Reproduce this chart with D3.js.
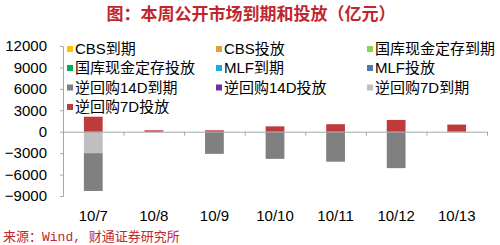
<!DOCTYPE html>
<html>
<head>
<meta charset="utf-8">
<script src="https://cdn.jsdelivr.net/npm/d3@7"></script>
<style>
  body { margin: 0; background: #fff; }
  svg { display: block; }
  text { font-family: "Liberation Sans", Arial, "Noto Sans CJK SC", sans-serif; }
</style>
</head>
<body>
<svg id="chart"></svg>
<script>
// data
const categories = ['10/7', '10/8', '10/9', '10/10', '10/11', '10/12', '10/13'];
const cbsDue = [0, 0, 0, 0, 0, 0, 0];
const cbsIssue = [0, 0, 0, 0, 0, 0, 0];
const treasuryDue = [0, 0, 0, 0, 0, 0, 0];
const treasuryIssue = [0, 0, 0, 0, 0, 0, 0];
const mlfDue = [0, 0, 0, 0, 0, 0, 0];
const mlfIssue = [0, 0, 0, 0, 0, 0, 0];
const rr14Due = [-5300, 0, -3100, -3800, -4200, -5100, 0];
const rr14Issue = [0, 0, 0, 0, 0, 0, 0];
const rr7Due = [-3000, 0, 0, 0, 0, 0, 0];
const rr7Issue = [2100, 200, 200, 750, 1050, 1650, 1000];
const yTicks = [-9000, -6000, -3000, 0, 3000, 6000, 9000, 12000];

const seriesNames = ['CBS到期', 'CBS投放', '国库现金定存到期', '国库现金定存投放', 'MLF到期', 'MLF投放',
  '逆回购14D到期', '逆回购14D投放', '逆回购7D到期', '逆回购7D投放'];
const seriesValues = [cbsDue, cbsIssue, treasuryDue, treasuryIssue, mlfDue, mlfIssue,
  rr14Due, rr14Issue, rr7Due, rr7Issue];
const colors = ['#FFC000', '#DDA031', '#92D050', '#00B050', '#1EA9E6', '#4A7EA6',
  '#808080', '#7030A0', '#BFBFBF', '#BF3A3A'];
// 7D maturities sit next to the zero line, 14D below them
const stackKeys = ['CBS到期', 'CBS投放', '国库现金定存到期', '国库现金定存投放', 'MLF到期', 'MLF投放',
  '逆回购7D到期', '逆回购14D到期', '逆回购14D投放', '逆回购7D投放'];

const width = 500, height = 245;
const svg = d3.select('#chart').attr('width', width).attr('height', height);

const rows = categories.map((c, i) => {
  const r = { cat: c };
  seriesNames.forEach((n, k) => { r[n] = seriesValues[k][i]; });
  return r;
});
const color = d3.scaleOrdinal().domain(seriesNames).range(colors);

const x = d3.scaleBand().domain(categories).range([63, 487]).paddingInner(0.69).paddingOuter(0.345);
const y = d3.scaleLinear().domain([-9000, 12000]).range([196, 46]);
const bounds = d3.scaleLinear().domain([0, categories.length]).range([63, 487]);

// title
svg.append('text')
  .attr('x', 251).attr('y', 20)
  .attr('text-anchor', 'middle')
  .attr('fill', '#C0262D')
  .attr('font-size', 17).attr('font-weight', 'bold')
  .style('font-family', '"Noto Sans CJK SC", sans-serif')
  .text('图：本周公开市场到期和投放（亿元）');

// bars
const stacked = d3.stack().keys(stackKeys).offset(d3.stackOffsetDiverging)(rows);
svg.append('g').selectAll('g')
  .data(stacked)
  .join('g')
  .attr('fill', d => color(d.key))
  .selectAll('rect')
  .data(d => d)
  .join('rect')
  .attr('x', d => x(d.data.cat))
  .attr('width', x.bandwidth())
  .attr('y', d => y(Math.max(d[0], d[1])))
  .attr('height', d => Math.abs(y(d[0]) - y(d[1])));

// y axis
const yAxis = svg.append('g')
  .attr('transform', 'translate(63,0)')
  .call(d3.axisLeft(y).tickValues(yTicks).tickSize(3).tickPadding(13).tickFormat(d3.format('d')));
yAxis.select('.domain').attr('stroke', '#A6A6A6');
yAxis.selectAll('line').attr('stroke', '#A6A6A6');
yAxis.selectAll('text').attr('font-size', 15).attr('fill', '#000');

// x axis at zero, ticks between categories
const xTickAxis = svg.append('g')
  .attr('transform', `translate(0,${y(0)})`)
  .call(d3.axisBottom(bounds).tickValues(d3.range(categories.length + 1)).tickSize(4).tickSizeOuter(0).tickFormat(''));
xTickAxis.select('.domain').attr('stroke', '#A6A6A6');
xTickAxis.selectAll('line').attr('stroke', '#A6A6A6');

const xLabels = svg.append('g')
  .attr('transform', `translate(0,${y(0)})`)
  .call(d3.axisBottom(x).tickSize(0).tickPadding(79));
xLabels.select('.domain').remove();
xLabels.selectAll('text').attr('font-size', 15).attr('fill', '#000');

// legend
const legendCols = [67, 216, 367];
const legendRows = [49, 68, 87.5, 107];
const legend = svg.append('g').selectAll('g')
  .data(seriesNames)
  .join('g')
  .attr('transform', (d, i) => `translate(${legendCols[i % 3]},${legendRows[Math.floor(i / 3)]})`);
legend.append('rect')
  .attr('x', 0).attr('y', -3).attr('width', 6).attr('height', 6)
  .attr('fill', d => color(d));
legend.append('text')
  .attr('x', 8).attr('dy', '0.36em')
  .attr('font-size', 15).attr('fill', '#000')
  .text(d => d);

// source
svg.append('text')
  .attr('x', 3).attr('y', 241)
  .attr('fill', '#C0262D')
  .attr('font-size', 13)
  .style('font-family', '"Liberation Mono", "Noto Sans CJK SC", monospace')
  .text('来源：Wind, 财通证券研究所');
</script>
</body>
</html>
